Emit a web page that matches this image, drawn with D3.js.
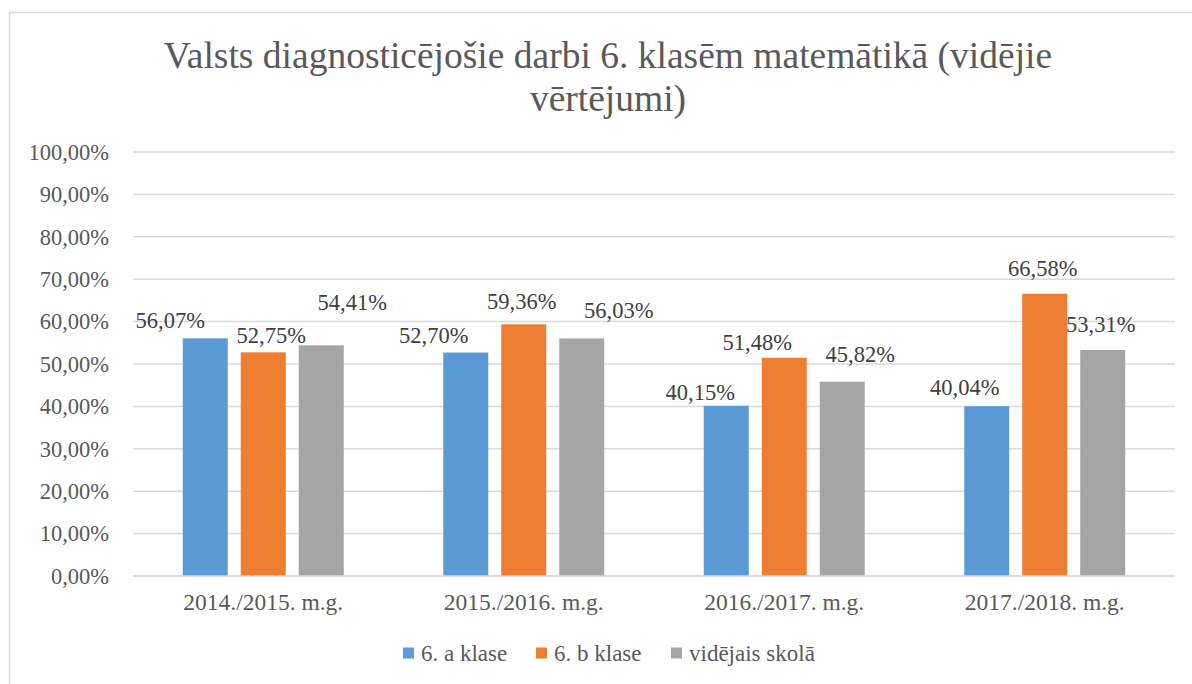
<!DOCTYPE html>
<html>
<head>
<meta charset="utf-8">
<script src="https://cdn.jsdelivr.net/npm/d3@7/dist/d3.min.js"></script>
<style>
  html, body { margin: 0; padding: 0; background: #fff; }
  svg { display: block; }
</style>
</head>
<body>
<svg id="chart" width="1192" height="684"></svg>
<script>
// ---- data ----
const categories = ["2014./2015. m.g.", "2015./2016. m.g.", "2016./2017. m.g.", "2017./2018. m.g."];
const seriesNames = ["6. a klase", "6. b klase", "vidējais skolā"];
const valuesA = [56.07, 52.70, 40.15, 40.04];
const valuesB = [52.75, 59.36, 51.48, 66.58];
const valuesAvg = [54.41, 56.03, 45.82, 53.31];
const yTicks = [0, 10, 20, 30, 40, 50, 60, 70, 80, 90, 100];
const titleLines = ["Valsts diagnosticējošie darbi 6. klasēm matemātikā (vidējie", "vērtējumi)"];
// label nudges (dx, dy) relative to bar top-center, mimicking the original placement
const labelNudgeA = [[-35, -18], [-32, -17], [-26, -13], [-22, -19]];
const labelNudgeB = [[8, -17], [-2, -23], [-27, -15], [-2, -25]];
const labelNudgeAvg = [[31, -43], [37, -28], [18, -27], [-2, -25]];

const colors = ["#5b9bd5", "#ed7d31", "#a5a5a5"];
const seriesValues = [valuesA, valuesB, valuesAvg];
const nudges = [labelNudgeA, labelNudgeB, labelNudgeAvg];
const FONT = "Liberation Serif";

const svg = d3.select("#chart");
const fmt = v => v.toFixed(2).replace(".", ",") + "%";

// outer border
svg.append("rect")
  .attr("x", 9.5).attr("y", 12.5)
  .attr("width", 1200).attr("height", 700)
  .attr("fill", "none").attr("stroke", "#d9d9d9").attr("stroke-width", 1.5);

// title
const title = svg.append("text")
  .attr("x", 608).attr("y", 68)
  .attr("text-anchor", "middle")
  .attr("fill", "#595959")
  .attr("font-family", FONT)
  .attr("font-size", 37.5);
titleLines.forEach((t, i) => {
  title.append("tspan").attr("x", 608).attr("dy", i === 0 ? 0 : 43).text(t);
});

const plot = { left: 133, right: 1175, top: 152, bottom: 576 };

const y = d3.scaleLinear().domain([0, 100]).range([plot.bottom, plot.top]);
const x0 = d3.scaleBand().domain(categories).range([plot.left, plot.right]).padding(0);
const bw = x0.bandwidth();
const x1 = d3.scaleBand().domain(seriesNames)
  .range([bw * 0.191, bw * 0.809])
  .paddingInner(0.224).paddingOuter(0);

// gridlines
svg.append("g").selectAll("line").data(yTicks).join("line")
  .attr("x1", plot.left).attr("x2", plot.right)
  .attr("y1", d => y(d)).attr("y2", d => y(d))
  .attr("stroke", "#d9d9d9").attr("stroke-width", 1.5);

// y axis labels
const yAxis = svg.append("g")
  .attr("transform", `translate(${plot.left - 24},0)`)
  .call(d3.axisLeft(y).tickValues(yTicks).tickFormat(fmt).tickSize(0).tickPadding(0));
yAxis.select(".domain").remove();
yAxis.attr("font-family", FONT).attr("font-size", 22.5);
yAxis.selectAll("text").attr("fill", "#595959");

// x axis labels
const xAxis = svg.append("g")
  .attr("transform", `translate(0,${plot.bottom + 17})`)
  .call(d3.axisBottom(x0).tickSize(0).tickPadding(0));
xAxis.select(".domain").remove();
xAxis.attr("font-family", FONT).attr("font-size", 23.5);
xAxis.selectAll("text").attr("fill", "#595959").attr("dy", "0.71em").attr("y", 0);

// bars
const barData = [];
seriesNames.forEach((s, si) => {
  categories.forEach((c, ci) => {
    barData.push({ s, si, c, ci, v: seriesValues[si][ci], n: nudges[si][ci] });
  });
});

svg.append("g").selectAll("rect").data(barData).join("rect")
  .attr("x", d => x0(d.c) + x1(d.s))
  .attr("y", d => y(d.v))
  .attr("width", x1.bandwidth())
  .attr("height", d => y(0) - y(d.v))
  .attr("fill", d => colors[d.si]);

// redraw baseline on top
svg.append("line")
  .attr("x1", plot.left).attr("x2", plot.right)
  .attr("y1", y(0)).attr("y2", y(0))
  .attr("stroke", "#d9d9d9").attr("stroke-width", 1.5);

// data labels
svg.append("g").attr("font-family", FONT).attr("font-size", 22.5)
  .selectAll("text").data(barData).join("text")
  .attr("x", d => x0(d.c) + x1(d.s) + x1.bandwidth() / 2 + d.n[0])
  .attr("y", d => y(d.v) + d.n[1])
  .attr("text-anchor", "middle")
  .attr("dominant-baseline", "central")
  .attr("fill", "#404040")
  .text(d => fmt(d.v));

// legend
const legendItems = [
  { name: seriesNames[0], color: colors[0], x: 403 },
  { name: seriesNames[1], color: colors[1], x: 536 },
  { name: seriesNames[2], color: colors[2], x: 671 }
];
const lg = svg.append("g").attr("font-family", FONT).attr("font-size", 23);
legendItems.forEach(it => {
  lg.append("rect").attr("x", it.x).attr("y", 647.5).attr("width", 11).attr("height", 11).attr("fill", it.color);
  lg.append("text").attr("x", it.x + 18).attr("y", 653)
    .attr("dominant-baseline", "central")
    .attr("fill", "#595959")
    .text(it.name);
});
</script>
</body>
</html>
